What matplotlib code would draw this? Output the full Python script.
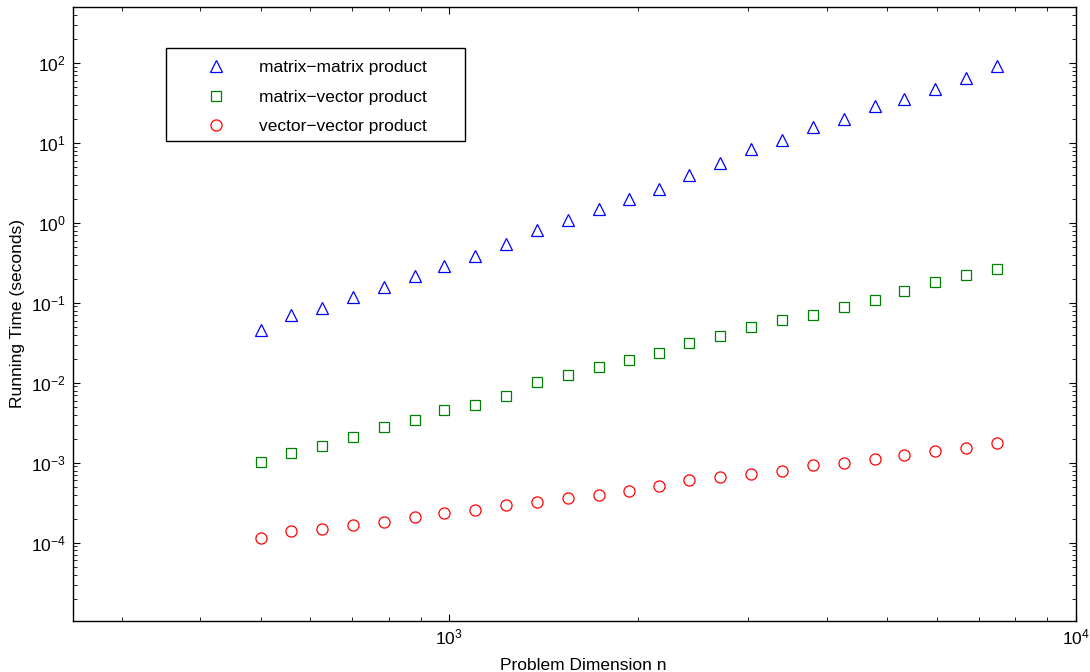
import matplotlib
matplotlib.use('Agg')
from matplotlib import pyplot as plt
from matplotlib.ticker import LogLocator, NullFormatter
from matplotlib.patches import Rectangle

plt.rcParams['font.family'] = ['Liberation Sans', 'DejaVu Sans']
plt.rcParams['mathtext.fontset'] = 'custom'
plt.rcParams['mathtext.rm'] = 'Liberation Sans'
plt.rcParams['mathtext.it'] = 'Liberation Sans'

# problem sizes n
n = [500, 560, 627, 703, 788, 883, 982, 1100, 1233, 1381, 1548, 1734, 1936,
     2162, 2415, 2706, 3032, 3397, 3808, 4267, 4778, 5318, 5958, 6676, 7483]

# running times in seconds
mat_mat = [0.0454, 0.0713, 0.0873, 0.118, 0.159, 0.214, 0.289, 0.389, 0.551,
           0.818, 1.10, 1.48, 1.98, 2.67, 4.01, 5.61, 8.40, 10.8, 16.0, 19.6,
           29.1, 35.3, 47.6, 64.3, 91.0]
mat_vec = [1.03e-3, 1.32e-3, 1.62e-3, 2.08e-3, 2.78e-3, 3.40e-3, 4.58e-3,
           5.30e-3, 6.81e-3, 1.01e-2, 1.24e-2, 1.59e-2, 1.93e-2, 2.36e-2,
           3.18e-2, 3.85e-2, 4.95e-2, 6.07e-2, 7.01e-2, 8.99e-2, 0.110,
           0.140, 0.180, 0.220, 0.267]
vec_vec = [1.16e-4, 1.40e-4, 1.47e-4, 1.65e-4, 1.82e-4, 2.10e-4, 2.33e-4,
           2.58e-4, 2.97e-4, 3.27e-4, 3.60e-4, 4.00e-4, 4.46e-4, 5.15e-4,
           6.00e-4, 6.60e-4, 7.30e-4, 8.00e-4, 9.35e-4, 9.80e-4, 1.13e-3,
           1.26e-3, 1.39e-3, 1.53e-3, 1.79e-3]

labels = ['matrix\u2212matrix product', 'matrix\u2212vector product',
          'vector\u2212vector product']

fs = 12.5

fig = plt.figure(figsize=(10.9, 6.72), dpi=100)
ax = fig.add_axes([73 / 1090, 51 / 672, 1003 / 1090, 614 / 672])

ms = 8
ax.plot(n, mat_mat, linestyle='none', marker='^', ms=ms, mfc='none',
        mec=(0, 0, 1), mew=0.9, label=labels[0])
ax.plot(n, mat_vec, linestyle='none', marker='s', ms=ms - 0.5, mfc='none',
        mec=(0, 0.5, 0), mew=0.9, label=labels[1])
ax.plot(n, vec_vec, linestyle='none', marker='o', ms=ms, mfc='none',
        mec=(1, 0, 0), mew=0.9, label=labels[2])

ax.set_xscale('log')
ax.set_yscale('log')
ax.set_xlim(251, 1e4)
ax.set_ylim(1.05e-5, 500)

ax.xaxis.set_major_locator(LogLocator(base=10, numticks=20))
ax.yaxis.set_major_locator(LogLocator(base=10, numticks=20))
ax.xaxis.set_minor_locator(LogLocator(base=10, subs=range(2, 10), numticks=100))
ax.yaxis.set_minor_locator(LogLocator(base=10, subs=range(2, 10), numticks=100))
ax.xaxis.set_minor_formatter(NullFormatter())
ax.yaxis.set_minor_formatter(NullFormatter())

ax.tick_params(which='both', direction='in', top=True, right=True,
               labelsize=fs, color='black')
ax.tick_params(which='major', length=5, width=0.8, pad=5)
ax.tick_params(which='minor', length=3, width=0.6)
for s in ax.spines.values():
    s.set_linewidth(1.0)

ax.set_xlabel('Problem Dimension n', fontsize=fs)
ax.xaxis.set_label_coords(0.509, -0.060)
ax.set_ylabel('Running Time (seconds)', fontsize=fs, labelpad=4)

# legend box drawn as its own rectangle, MATLAB style
ax.add_patch(Rectangle((0.0927, 0.782), 0.2985, 0.151, transform=ax.transAxes,
                       facecolor='white', edgecolor='black', linewidth=1.0,
                       zorder=4))
leg = ax.legend(loc='upper left', bbox_to_anchor=(0.0927, 0.933),
                borderaxespad=0, frameon=False, fontsize=fs, numpoints=1,
                handlelength=4.4, handletextpad=0.25, borderpad=0.7,
                labelspacing=0.82)
leg.set_zorder(5)

fig.savefig('out.png', dpi=100)
